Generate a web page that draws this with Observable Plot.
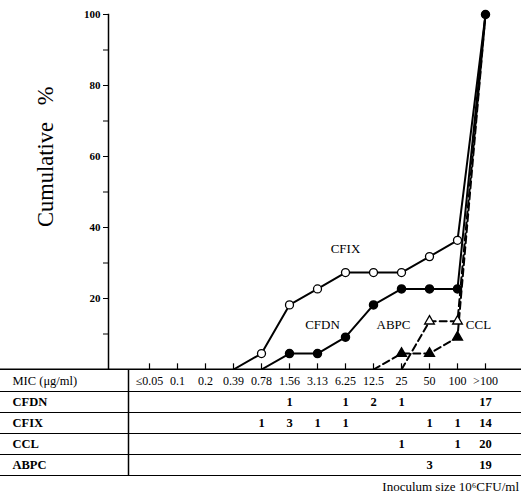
<!DOCTYPE html>
<html>
<head>
<meta charset="utf-8">
<script src="https://cdn.jsdelivr.net/npm/d3@7"></script>
<script src="https://cdn.jsdelivr.net/npm/@observablehq/plot@0.6"></script>
<style>
  html, body { margin: 0; padding: 0; background: #fff; }
  #chart svg, #table svg { display: block; }
  .caption { font-family: "Liberation Serif", serif; font-size: 13px; text-align: right; padding-right: 2px; margin-top: 3px; width: 521px; box-sizing: border-box; }
</style>
</head>
<body>
<div id="chart"></div>
<div id="table"></div>
<div class="caption">Inoculum size 10⁶CFU/ml</div>
<script>
// ---- data ----
const categories = ["≤0.05","0.1","0.2","0.39","0.78","1.56","3.13","6.25","12.5","25","50","100",">100"];
const cfdnPct = [null,null,null,null,0,4.5,4.5,9.1,18.2,22.7,22.7,22.7,100];
const cfixPct = [null,null,null,0,4.5,18.2,22.7,27.3,27.3,27.3,31.8,36.4,100];
const cclPct  = [null,null,null,null,null,null,null,null,0,4.5,4.5,9.1,100];
const abpcPct = [null,null,null,null,null,null,null,null,null,0,13.6,13.6,100];

const rowNames = ["MIC (μg/ml)","CFDN","CFIX","CCL","ABPC"];
const cfdnCount = ["","","","","","1","","1","2","1","","","17"];
const cfixCount = ["","","","","1","3","1","1","","","1","1","14"];
const cclCount  = ["","","","","","","","","","1","","1","20"];
const abpcCount = ["","","","","","","","","","","3","","19"];

const yTicks = [10,20,30,40,50,60,70,80,90,100];
const yTickLabels = [20,40,60,80,100];

// ---- build tables ----
function toRows(name, arr) {
  return arr.map((v, i) => ({drug: name, cat: categories[i], pct: v})).filter(d => d.pct !== null);
}
const cfdn = toRows("CFDN", cfdnPct);
const cfix = toRows("CFIX", cfixPct);
const ccl = toRows("CCL", cclPct);
const abpc = toRows("ABPC", abpcPct);
const markerFilter = d => d.pct > 0 && d.cat !== ">100";

const font = "Liberation Serif, Times New Roman, serif";
const xScale = {type: "point", domain: categories, range: [129, 505]};

const chart = Plot.plot({
  width: 521, height: 370,
  marginTop: 14, marginBottom: 1, marginLeft: 108, marginRight: 0,
  style: {fontFamily: font, background: "white"},
  x: {...xScale, axis: null},
  y: {domain: [0, 100], axis: null},
  marks: [
    Plot.frame({anchor: "left", stroke: "black", strokeWidth: 1.5}),
    Plot.axisY({ticks: yTicks, tickSize: 5, tickPadding: 3, label: null,
      tickFormat: d => yTickLabels.includes(d) ? String(d) : "",
      fontSize: 11, fontWeight: "bold", stroke: "black"}),
    Plot.ruleY([0], {insetLeft: -108, stroke: "black", strokeWidth: 2}),
    Plot.ruleX(categories, {x: d => d, y1: 0, y2: 1.6, stroke: "black", strokeWidth: 1.2}),
    Plot.text(["Cumulative\u00a0\u00a0\u00a0%"], {frameAnchor: "left", dx: -63, dy: 35, rotate: -90, fontSize: 22.5, fill: "black"}),
    // dashed series
    Plot.line(ccl, {x: "cat", y: "pct", stroke: "black", strokeWidth: 2, strokeDasharray: "7,4"}),
    Plot.line(abpc, {x: "cat", y: "pct", stroke: "black", strokeWidth: 2, strokeDasharray: "7,4"}),
    // solid series
    Plot.line(cfix, {x: "cat", y: "pct", stroke: "black", strokeWidth: 2}),
    Plot.line(cfdn, {x: "cat", y: "pct", stroke: "black", strokeWidth: 2}),
    // markers
    Plot.dot(ccl.filter(markerFilter), {x: "cat", y: "pct", symbol: "triangle", r: 3.6, fill: "black", stroke: "black"}),
    Plot.dot(abpc.filter(markerFilter), {x: "cat", y: "pct", symbol: "triangle", r: 3.6, fill: "white", stroke: "black", strokeWidth: 1.3}),
    Plot.dot(cfix.filter(markerFilter), {x: "cat", y: "pct", r: 4, fill: "white", stroke: "black", strokeWidth: 1.3}),
    Plot.dot(cfdn.filter(d => d.pct > 0), {x: "cat", y: "pct", r: 4, fill: "black", stroke: "black"}),
    // series labels
    Plot.text(["CFIX"], {x: () => "6.25", y: () => 34, fontSize: 13, fill: "black"}),
    Plot.text(["CFDN"], {x: () => "3.13", y: () => 12.7, dx: 5, fontSize: 13, fill: "black"}),
    Plot.text(["ABPC"], {x: () => "25", y: () => 12.7, dx: -8, fontSize: 13, fill: "black"}),
    Plot.text(["CCL"], {x: () => ">100", y: () => 12.7, dx: -7, fontSize: 13, fill: "black"})
  ]
});
document.getElementById("chart").appendChild(chart);

// ---- table ----
const countRows = [null, cfdnCount, cfixCount, cclCount, abpcCount];
const cells = [];
categories.forEach((c, j) => cells.push({row: 0, cat: c, text: c}));
countRows.forEach((arr, i) => { if (arr) arr.forEach((t, j) => { if (t) cells.push({row: i, cat: categories[j], text: t}); }); });
const rowIdx = rowNames.map((r, i) => i);
const boundaries = rowIdx.map(i => i + 1);

const table = Plot.plot({
  width: 521, height: 106,
  marginTop: 0, marginBottom: 0, marginLeft: 108, marginRight: 0,
  style: {fontFamily: font, background: "white", overflow: "visible"},
  x: {...xScale, axis: null},
  y: {domain: [0, rowNames.length], range: [0, 105], axis: null},
  marks: [
    Plot.ruleY(boundaries, {y: d => d, insetLeft: -108, stroke: "black", strokeWidth: 1.2}),
    Plot.ruleX([0], {x: () => categories[0], dx: -21, y1: 0, y2: rowNames.length, stroke: "black", strokeWidth: 1.5}),
    Plot.text(cells.filter(d => d.row === 0), {x: "cat", y: d => d.row + 0.5, text: "text", fontSize: 12, fill: "black"}),
    Plot.text(cells.filter(d => d.row > 0), {x: "cat", y: d => d.row + 0.5, text: "text", fontSize: 12.5, fontWeight: "bold", fill: "black"}),
    Plot.text(rowIdx.filter(i => i === 0), {y: d => d + 0.5, text: d => rowNames[d], frameAnchor: "left", dx: -96, textAnchor: "start",
      fontSize: 12.5, fill: "black"}),
    Plot.text(rowIdx.filter(i => i > 0), {y: d => d + 0.5, text: d => rowNames[d], frameAnchor: "left", dx: -96, textAnchor: "start",
      fontSize: 12.5, fontWeight: "bold", fill: "black"})
  ]
});
document.getElementById("table").appendChild(table);
</script>
</body>
</html>
